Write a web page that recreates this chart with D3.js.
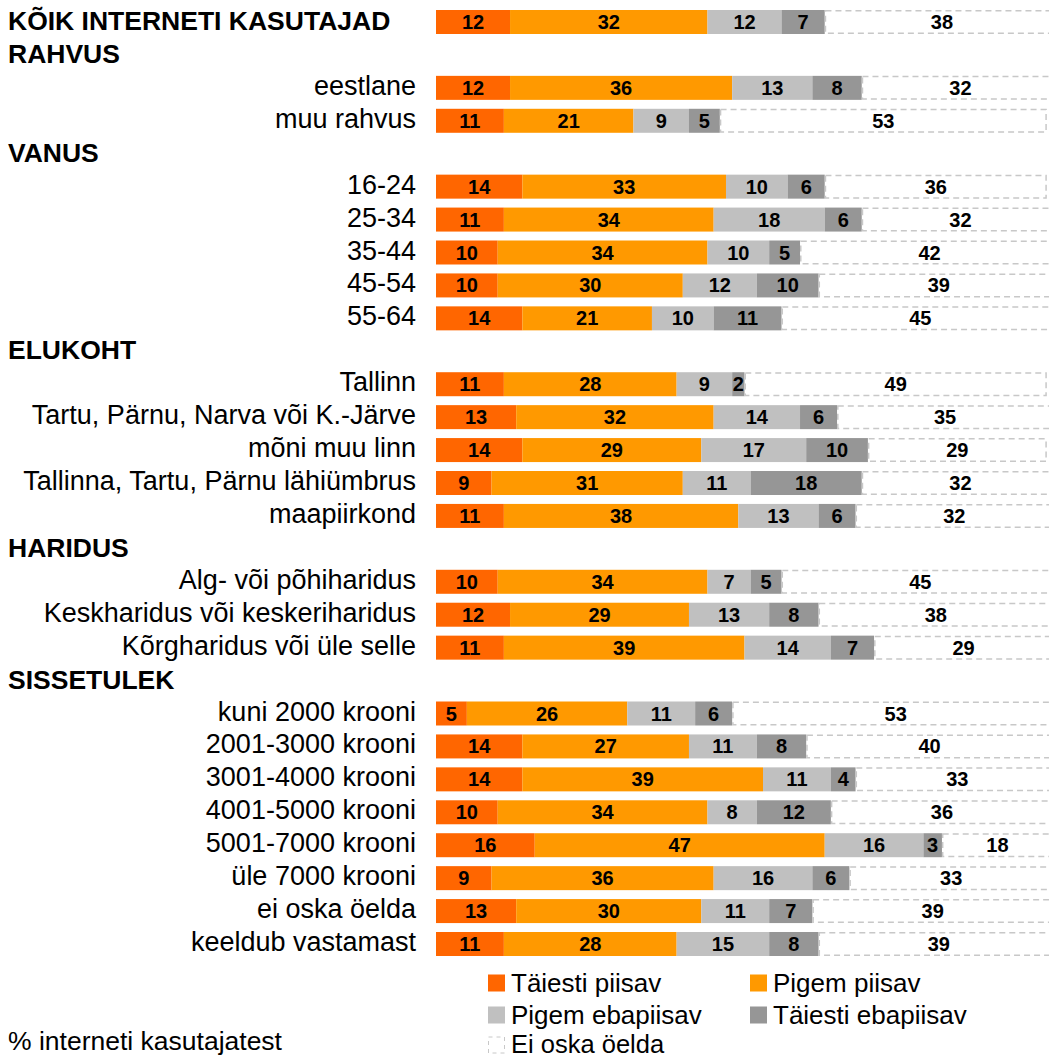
<!DOCTYPE html>
<html><head><meta charset="utf-8">
<script src="https://cdn.jsdelivr.net/npm/d3@7"></script>
<style>body{margin:0;background:#fff}svg{display:block}text{font-family:"Liberation Sans",Arial,Helvetica,sans-serif}</style>
</head><body><svg id="c" width="1049" height="1059"></svg>
<script>
const rowLabels = ["KÕIK INTERNETI KASUTAJAD","RAHVUS","eestlane","muu rahvus","VANUS","16-24","25-34","35-44","45-54","55-64","ELUKOHT","Tallinn","Tartu, Pärnu, Narva või K.-Järve","mõni muu linn","Tallinna, Tartu, Pärnu lähiümbrus","maapiirkond","HARIDUS","Alg- või põhiharidus","Keskharidus või keskeriharidus","Kõrgharidus või üle selle","SISSETULEK","kuni 2000 krooni","2001-3000 krooni","3001-4000 krooni","4001-5000 krooni","5001-7000 krooni","üle 7000 krooni","ei oska öelda","keeldub vastamast"];
const headerRows = ["KÕIK INTERNETI KASUTAJAD","RAHVUS","VANUS","ELUKOHT","HARIDUS","SISSETULEK"];
const seriesNames = ["Täiesti piisav","Pigem piisav","Pigem ebapiisav","Täiesti ebapiisav","Ei oska öelda"];
const taiestiPiisav    = [12,null,12,11,null,14,11,10,10,14,null,11,13,14,9,11,null,10,12,11,null,5,14,14,10,16,9,13,11];
const pigemPiisav      = [32,null,36,21,null,33,34,34,30,21,null,28,32,29,31,38,null,34,29,39,null,26,27,39,34,47,36,30,28];
const pigemEbapiisav   = [12,null,13,9,null,10,18,10,12,10,null,9,14,17,11,13,null,7,13,14,null,11,11,11,8,16,16,11,15];
const taiestiEbapiisav = [7,null,8,5,null,6,6,5,10,11,null,2,6,10,18,6,null,5,8,7,null,6,8,4,12,3,6,7,8];
const eiOskaOelda      = [38,null,32,53,null,36,32,42,39,45,null,49,35,29,32,32,null,45,38,29,null,53,40,33,36,18,33,39,39];
const footnote = "% interneti kasutajatest";
const colors = ["#FF6600","#FF9900","#C0C0C0","#969696","#FFFFFF"];

const series = [taiestiPiisav,pigemPiisav,pigemEbapiisav,taiestiEbapiisav,eiOskaOelda];
const svg = d3.select("#c");
const x = d3.scaleLinear().domain([0,100]).range([436,1053]);
const y = d3.scalePoint().domain(d3.range(rowLabels.length)).range([22,944]);
const barH = 24;

// labels
rowLabels.forEach((lab,i)=>{
  const isH = headerRows.includes(lab);
  svg.append("text")
    .attr("x", isH?8:416).attr("y", y(i)+ (isH?8:7))
    .attr("text-anchor", isH?"start":"end")
    .attr("font-size", isH?26.5:27).attr("font-weight", isH?"bold":"normal")
    .attr("fill","#000").text(lab);
});

// bars
rowLabels.forEach((lab,i)=>{
  if (taiestiPiisav[i]==null) return;
  let cum = 0;
  series.forEach((s,k)=>{
    const v = s[i];
    const x0 = x(cum), x1 = x(cum+v);
    const g = svg.append("g");
    if (k<4) {
      g.append("rect").attr("x",x0).attr("y",y(i)-barH/2).attr("width",x1-x0).attr("height",barH).attr("fill",colors[k]);
    } else {
      g.append("rect").attr("x",x0+0.75).attr("y",y(i)-barH/2+0.75).attr("width",x1-x0-1.5).attr("height",barH-1.5)
        .attr("fill","#fff").attr("stroke","#C8C8C8").attr("stroke-width",1.5).attr("stroke-dasharray","6,4");
    }
    g.append("text").attr("x",(x0+x1)/2).attr("y",y(i)+7).attr("text-anchor","middle")
      .attr("font-size",20).attr("font-weight","bold").attr("fill","#000").text(v);
    cum += v;
  });
});

// legend
const legPos = [[488,983],[750,983],[488,1015],[750,1015],[488,1045]];
seriesNames.forEach((n,k)=>{
  const [lx,ly] = legPos[k];
  if (k<4) svg.append("rect").attr("x",lx).attr("y",ly-8.5).attr("width",17).attr("height",17).attr("fill",colors[k]);
  else svg.append("rect").attr("x",lx+0.5).attr("y",ly-8).attr("width",16).attr("height",16).attr("fill","#fff")
        .attr("stroke","#C8C8C8").attr("stroke-width",1).attr("stroke-dasharray","4,4");
  svg.append("text").attr("x",lx+23).attr("y",k===4?ly+8:ly+9).attr("font-size",k===4?25.5:26).attr("fill","#000").text(n);
});

svg.append("text").attr("x",8).attr("y",1050).attr("font-size",26.5).attr("fill","#000").text(footnote);
</script></body></html>
